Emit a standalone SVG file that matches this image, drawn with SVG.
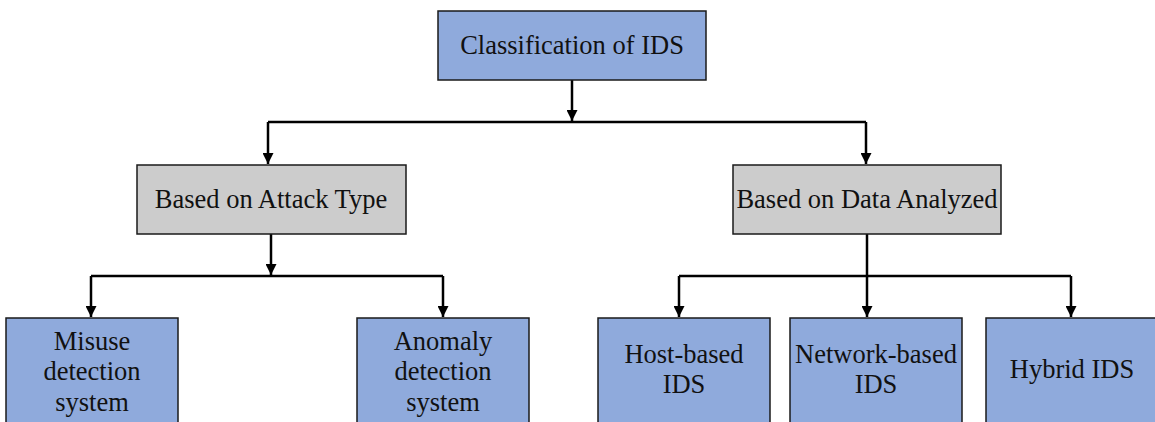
<svg xmlns="http://www.w3.org/2000/svg" width="1155" height="422" viewBox="0 0 1155 422">
  <style>
    .box { stroke: #1a1a1a; stroke-width: 1.5; }
    .blue { fill: #8faadc; }
    .gray { fill: #cccccc; }
    .label { font-family: "Liberation Serif", "Times New Roman", serif; font-size: 26.5px; fill: #111; text-anchor: middle; }
    .wire { fill: none; stroke: #000; stroke-width: 2.5; }
  </style>
  <defs>
    <marker id="arrow" viewBox="0 0 10 10" refX="10" refY="5" markerWidth="11" markerHeight="11" markerUnits="userSpaceOnUse" orient="auto">
      <path d="M0,0 L10,5 L0,10 z" fill="#000"/>
    </marker>
  </defs>

  <rect x="0" y="0" width="1155" height="422" fill="#ffffff"/>

  <!-- connectors -->
  <g id="connectors">
    <line class="wire" x1="572" y1="80" x2="572" y2="121" marker-end="url(#arrow)"/>
    <polyline class="wire" points="268,122 866,122"/>
    <line class="wire" x1="268" y1="122" x2="268" y2="164" marker-end="url(#arrow)"/>
    <line class="wire" x1="866" y1="122" x2="866" y2="164" marker-end="url(#arrow)"/>
    <line class="wire" x1="271" y1="234" x2="271" y2="275" marker-end="url(#arrow)"/>
    <polyline class="wire" points="91,276 443,276"/>
    <line class="wire" x1="91" y1="276" x2="91" y2="317" marker-end="url(#arrow)"/>
    <line class="wire" x1="443" y1="276" x2="443" y2="317" marker-end="url(#arrow)"/>
    <line class="wire" x1="867" y1="234" x2="867" y2="276"/>
    <polyline class="wire" points="679,276 1071,276"/>
    <line class="wire" x1="679" y1="276" x2="679" y2="317" marker-end="url(#arrow)"/>
    <line class="wire" x1="867" y1="276" x2="867" y2="317" marker-end="url(#arrow)"/>
    <line class="wire" x1="1071" y1="276" x2="1071" y2="317" marker-end="url(#arrow)"/>
  </g>

  <g id="root">
    <rect class="box blue" x="438" y="11" width="268" height="69"/>
    <text class="label" x="572" y="54">Classification of IDS</text>
  </g>

  <g id="attack-type">
    <rect class="box gray" x="137" y="165" width="269" height="69"/>
    <text class="label" x="271" y="208">Based on Attack Type</text>
  </g>

  <g id="data-analyzed">
    <rect class="box gray" x="733" y="165" width="268" height="69"/>
    <text class="label" x="867" y="208">Based on Data Analyzed</text>
  </g>

  <g id="misuse">
    <rect class="box blue" x="6" y="318" width="172" height="120"/>
    <text class="label" x="92" y="350">Misuse</text>
    <text class="label" x="92" y="380">detection</text>
    <text class="label" x="92" y="411">system</text>
  </g>

  <g id="anomaly">
    <rect class="box blue" x="357" y="318" width="172" height="120"/>
    <text class="label" x="443" y="350">Anomaly</text>
    <text class="label" x="443" y="380">detection</text>
    <text class="label" x="443" y="411">system</text>
  </g>

  <g id="host-based">
    <rect class="box blue" x="598" y="318" width="172" height="120"/>
    <text class="label" x="684" y="363">Host-based</text>
    <text class="label" x="684" y="393">IDS</text>
  </g>

  <g id="network-based">
    <rect class="box blue" x="790" y="318" width="172" height="120"/>
    <text class="label" x="876" y="363">Network-based</text>
    <text class="label" x="876" y="393">IDS</text>
  </g>

  <g id="hybrid">
    <rect class="box blue" x="986" y="318" width="180" height="120"/>
    <text class="label" x="1072" y="378">Hybrid IDS</text>
  </g>
</svg>
